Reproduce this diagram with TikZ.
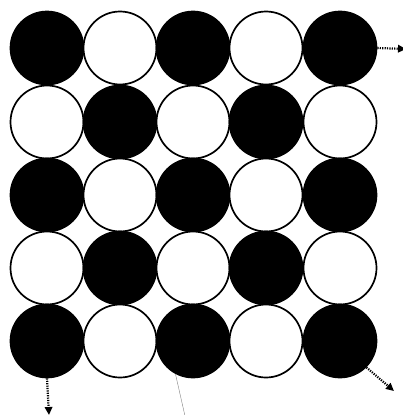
\documentclass[tikz,border=0pt]{standalone}
\usepackage{tikz}
\usetikzlibrary{arrows.meta}

\tikzset{
  ball/.style={circle,draw,line width=1.7pt,inner sep=0pt,minimum size=73pt},
  dark/.style={ball,fill=black},
  light/.style={ball,fill=white},
  hop/.style={line width=2.2pt,dash pattern=on 1.2pt off 1.2pt,-{Triangle[length=2.8mm,width=2.6mm]}}
}

\begin{document}
\begin{tikzpicture}[x=1pt,y=-1pt]
  \useasboundingbox (0,0) rectangle (403,415);
  % row 0
  \node[dark] (a00) at (47,48) {};
  \node[light] (a01) at (120,48) {};
  \node[dark] (a02) at (193,48) {};
  \node[light] (a03) at (266,48) {};
  \node[dark] (a04) at (340,48) {};
  % row 1
  \node[light] (a10) at (47,122) {};
  \node[dark] (a11) at (120,122) {};
  \node[light] (a12) at (193,122) {};
  \node[dark] (a13) at (266,122) {};
  \node[light] (a14) at (340,122) {};
  % row 2
  \node[dark] (a20) at (47,195) {};
  \node[light] (a21) at (120,195) {};
  \node[dark] (a22) at (193,195) {};
  \node[light] (a23) at (266,195) {};
  \node[dark] (a24) at (340,195) {};
  % row 3
  \node[light] (a30) at (47,268) {};
  \node[dark] (a31) at (120,268) {};
  \node[light] (a32) at (193,268) {};
  \node[dark] (a33) at (266,268) {};
  \node[light] (a34) at (340,268) {};
  % row 4
  \node[dark] (a40) at (47,341) {};
  \node[light] (a41) at (120,341) {};
  \node[dark] (a42) at (193,341) {};
  \node[light] (a43) at (266,341) {};
  \node[dark] (a44) at (340,341) {};
  % free ends
  \coordinate (e1) at (406,49);
  \coordinate (e2) at (49,415);
  \coordinate (e3) at (394,391);
  \coordinate (e4) at (185,416);
  \draw[hop] (a04.east) -- (e1);
  \draw[hop] (a40.south) -- (e2);
  \draw[hop] (a44.-45) -- (e3);
  \draw[gray,line width=0.4pt] (a42.242) -- (e4);
\end{tikzpicture}
\end{document}
